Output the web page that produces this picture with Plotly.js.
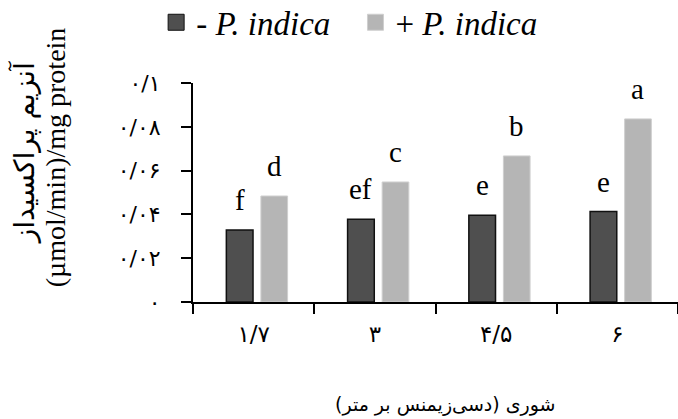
<!DOCTYPE html>
<html>
<head>
<meta charset="utf-8">
<script src="https://cdn.plot.ly/plotly-3.0.1.min.js"></script>
<style>html,body{margin:0;padding:0;background:#fff;}#chart{width:678px;height:419px;}</style>
</head>
<body>
<div id="chart"></div>
<script>
// Data
const categories = ["۱/۷", "۳", "۴/۵", "۶"];
const withoutPi = [0.0329, 0.0378, 0.0396, 0.0413];
const withPi = [0.0484, 0.0548, 0.0667, 0.0836];
const lettersWithout = ["f", "ef", "e", "e"];
const lettersWith = ["d", "c", "b", "a"];
const yTickVals = [0, 0.02, 0.04, 0.06, 0.08, 0.1];
const yTickText = ["۰", "۰/۰۲", "۰/۰۴", "۰/۰۶", "۰/۰۸", "۰/۱"];
const seriesNames = ["- <i>P. indica</i>", "+ <i>P. indica</i>"];
const yTitleFa = "آنزیم پراکسیداز";
const yTitleEn = "(µmol/min)/mg protein";
const xTitle = "شوری (دسی‌زیمنس بر متر)";

const darkColor = "#4f4f4f";
const lightColor = "#b5b5b5";
const barW = 0.22;
const offDark = -0.225;
const offLight = 0.06;
const serif = "Liberation Serif, Times New Roman, serif";
const persian = "DejaVu Sans, sans-serif";

const traces = [
  {type: "bar", x: categories, y: withoutPi, width: barW, offset: offDark,
   marker: {color: darkColor, line: {color: "#111", width: 1.5}}, showlegend: false, hoverinfo: "y"},
  {type: "bar", x: categories, y: withPi, width: barW, offset: offLight,
   marker: {color: lightColor, line: {color: "#cfcfcf", width: 1}}, showlegend: false, hoverinfo: "y"},
  {type: "scatter", mode: "markers", x: [categories[0]], y: [null], name: seriesNames[0], legend: "legend",
   marker: {symbol: "square", size: 16, color: darkColor, line: {color: "#111", width: 1}}},
  {type: "scatter", mode: "markers", x: [categories[0]], y: [null], name: seriesNames[1], legend: "legend2",
   marker: {symbol: "square", size: 16, color: lightColor, line: {color: "#cfcfcf", width: 1}}}
];

const annotations = [];
categories.forEach((c, i) => {
  annotations.push({xref: "x", yref: "y", x: i + offDark + barW / 2, y: withoutPi[i],
    text: lettersWithout[i], showarrow: false, yanchor: "bottom", yshift: 12,
    font: {family: serif, size: 29, color: "#000"}});
  annotations.push({xref: "x", yref: "y", x: i + offLight + barW / 2, y: withPi[i],
    text: lettersWith[i], showarrow: false, yanchor: "bottom", yshift: 12,
    font: {family: serif, size: 29, color: "#000"}});
});
// y-axis title (two rotated lines)
annotations.push({xref: "paper", yref: "paper", x: -0.348, y: 0.68, xanchor: "center", yanchor: "middle",
  textangle: -90, showarrow: false, text: yTitleFa,
  font: {family: persian, size: 28, color: "#000"}});
annotations.push({xref: "paper", yref: "paper", x: -0.283, y: 0.66, xanchor: "center", yanchor: "middle",
  textangle: -90, showarrow: false, text: yTitleEn,
  font: {family: serif, size: 28, color: "#000"}});
// x-axis title
annotations.push({xref: "paper", yref: "paper", x: 0.52, y: -0.47, xanchor: "center", yanchor: "middle",
  showarrow: false, text: xTitle,
  font: {family: persian, size: 19, color: "#000"}});

const legendFont = {family: serif, size: 33, color: "#000"};
const layout = {
  width: 678, height: 419,
  margin: {l: 193, r: 0, t: 83, b: 117, autoexpand: false},
  paper_bgcolor: "#fff", plot_bgcolor: "#fff",
  barmode: "overlay",
  showlegend: true,
  legend: {orientation: "h", x: -0.076, y: 1.405, xanchor: "left", yanchor: "top",
    font: legendFont, itemwidth: 30, bgcolor: "rgba(0,0,0,0)"},
  legend2: {orientation: "h", x: 0.335, y: 1.405, xanchor: "left", yanchor: "top",
    font: legendFont, itemwidth: 30, bgcolor: "rgba(0,0,0,0)"},
  xaxis: {type: "category", range: [-0.5, 3.5], tickson: "boundaries",
    ticks: "outside", ticklen: 10, tickwidth: 2, tickcolor: "#000",
    showline: true, linecolor: "#000", linewidth: 2, showgrid: false, zeroline: false,
    ticklabelstandoff: 10,
    tickfont: {family: persian, size: 23, color: "#000"}, fixedrange: true},
  yaxis: {range: [0, 0.1], tickvals: yTickVals, ticktext: yTickText,
    ticks: "outside", ticklen: 10, tickwidth: 2, tickcolor: "#000",
    showline: true, linecolor: "#000", linewidth: 2, showgrid: false, zeroline: false,
    ticklabelstandoff: 16,
    tickfont: {family: persian, size: 22, color: "#000"}, fixedrange: true},
  annotations: annotations
};

Plotly.newPlot("chart", traces, layout, {displayModeBar: false, staticPlot: true});
</script>
</body>
</html>
